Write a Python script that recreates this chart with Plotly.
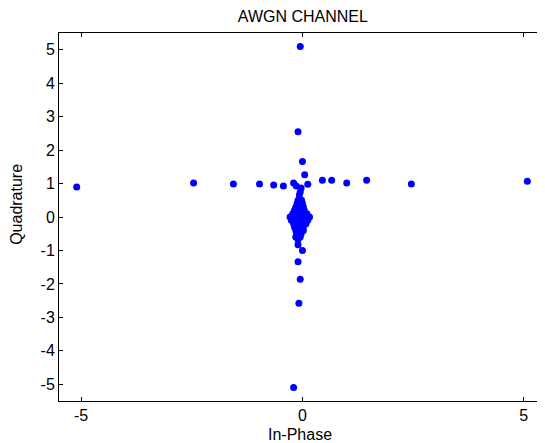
import plotly.graph_objects as go

# Horizontal arm (points near Q ~ 1)
arm_i = [-5.1, -2.46, -1.56, -0.97, -0.65, -0.43, -0.2, -0.14, -0.03, 0.12, 0.45, 0.66, 1.0, 1.45, 2.46, 5.08]
arm_q = [0.9, 1.02, 0.99, 0.99, 0.96, 0.93, 1.02, 0.93, 0.87, 0.98, 1.1, 1.1, 1.02, 1.1, 0.99, 1.07]

# Vertical arm (points near I ~ 0)
vert_i = [-0.05, -0.1, 0.0, 0.05, -0.05, -0.07, -0.07, -0.14, -0.1, 0.0, -0.1, -0.05, -0.08, -0.2]
vert_q = [5.1, 2.55, 1.66, 1.26, 0.75, 0.66, 0.5, -0.6, -0.83, -1.0, -1.34, -1.86, -2.58, -5.1]

# Dense central cluster
core_i = [-0.1, -0.02,
          -0.12, -0.03, 0.0,
          -0.15, -0.05, 0.02,
          -0.18, -0.1, -0.02, 0.04,
          -0.22, -0.12, -0.04, 0.05, 0.1,
          -0.28, -0.2, -0.1, 0.0, 0.08, 0.16,
          -0.25, -0.15, -0.05, 0.05, 0.12,
          -0.2, -0.1, 0.0, 0.08,
          -0.18, -0.08, 0.02,
          -0.15, -0.05, 0.02,
          -0.13, -0.03,
          -0.15, -0.05,
          -0.1]
core_q = [0.5, 0.5,
          0.4, 0.4, 0.4,
          0.3, 0.3, 0.3,
          0.2, 0.2, 0.2, 0.2,
          0.1, 0.1, 0.1, 0.1, 0.1,
          0.0, 0.0, 0.0, 0.0, 0.0, 0.0,
          -0.1, -0.1, -0.1, -0.1, -0.1,
          -0.2, -0.2, -0.2, -0.2,
          -0.3, -0.3, -0.3,
          -0.4, -0.4, -0.4,
          -0.5, -0.5,
          -0.6, -0.6,
          -0.68]

y_tick_vals = [-5, -4, -3, -2, -1, 0, 1, 2, 3, 4, 5]
y_tick_text = ["-5", "-4", "-3", "-2", "-1", "0", "1", "2", "3", "4", "5"]
x_tick_vals = [-5, 0, 5]
x_tick_text = ["-5", "0", "5"]

I = arm_i + vert_i + core_i
Q = arm_q + vert_q + core_q

FONT = "Liberation Sans, Arial, sans-serif"
FS = 16

fig = go.Figure()
fig.add_trace(go.Scatter(
    x=I, y=Q, mode="markers",
    marker=dict(color="rgb(0,0,255)", size=7, line=dict(width=0)),
    showlegend=False, hoverinfo="skip",
))

axis_common = dict(
    showgrid=False, zeroline=False, automargin=False,
    showline=True, linecolor="black", linewidth=1,
    mirror="ticks", ticks="inside", ticklen=4, tickcolor="black", tickwidth=1,
    tickfont=dict(family=FONT, size=FS, color="black"),
)

fig.update_layout(
    width=545, height=443,
    margin=dict(l=51, r=0, t=25, b=50),
    paper_bgcolor="white", plot_bgcolor="white",
    title=dict(text="AWGN CHANNEL", x=0.541, xanchor="center", y=0.982, yanchor="middle",
               font=dict(family=FONT, size=FS, color="black")),
    xaxis=dict(range=[-5.5, 5.66], tickvals=x_tick_vals, ticktext=x_tick_text, title=None, **axis_common),
    yaxis=dict(range=[-5.5, 5.5], tickvals=y_tick_vals, ticktext=y_tick_text, title=None, **axis_common),
    annotations=[
        dict(text="In-Phase", xref="paper", yref="paper", x=0.488, y=-0.09,
             xanchor="center", yanchor="middle", showarrow=False,
             font=dict(family=FONT, size=FS, color="black")),
        dict(text="Quadrature", xref="paper", yref="paper", x=-0.085, y=0.533,
             xanchor="center", yanchor="middle", showarrow=False, textangle=-90,
             font=dict(family=FONT, size=FS, color="black")),
    ],
)

fig.write_html("out.html")
